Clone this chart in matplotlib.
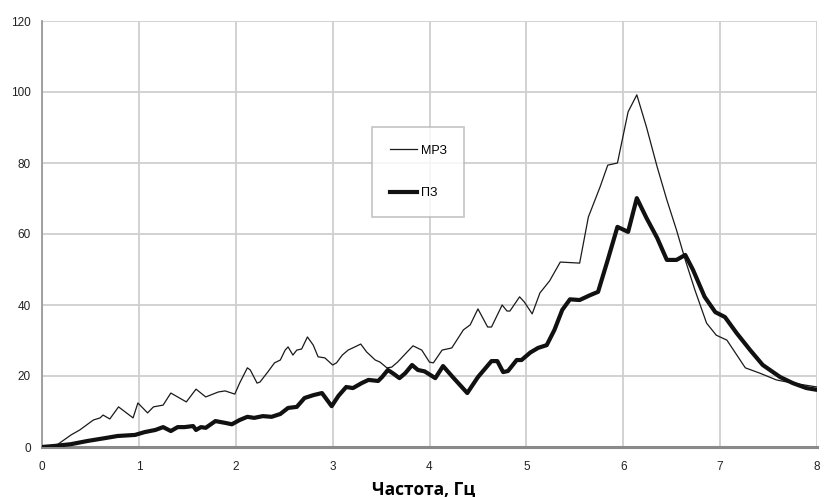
import matplotlib
matplotlib.use("Agg")
import matplotlib.pyplot as plt
from matplotlib import font_manager

# ---- data ----
mrz_freq = [0.00, 0.10, 0.15, 0.30, 0.39, 0.53, 0.60, 0.63, 0.70, 0.79, 0.94, 0.99, 1.09, 1.15,
            1.25, 1.33, 1.49, 1.59, 1.69, 1.82, 1.89, 1.99, 2.04, 2.12, 2.15, 2.22, 2.25, 2.33,
            2.40, 2.46, 2.51, 2.54, 2.59, 2.63, 2.68, 2.74, 2.80, 2.85, 2.92, 3.00, 3.04, 3.10,
            3.16, 3.23, 3.29, 3.35, 3.44, 3.49, 3.56, 3.61, 3.67, 3.77, 3.83, 3.92, 4.00, 4.04,
            4.13, 4.23, 4.35, 4.42, 4.50, 4.60, 4.64, 4.75, 4.80, 4.83, 4.93, 4.98, 5.06, 5.14,
            5.24, 5.35, 5.55, 5.64, 5.76, 5.84, 5.94, 6.05, 6.14, 6.24, 6.35, 6.45, 6.55, 6.64,
            6.74, 6.86, 6.96, 7.07, 7.26, 7.41, 7.58, 7.75, 8.00]
mrz_vals = [0.0, 0.0, 0.5, 3.4, 4.8, 7.6, 8.2, 9.0, 7.9, 11.3, 8.2, 12.4, 9.6, 11.3,
            11.8, 15.2, 12.7, 16.3, 14.1, 15.5, 15.8, 14.9, 18.0, 22.3, 21.7, 18.0, 18.3, 21.1,
            23.7, 24.5, 27.3, 28.2, 25.9, 27.3, 27.6, 31.0, 28.7, 25.4, 25.1, 23.1, 23.7, 25.9,
            27.3, 28.2, 29.0, 26.8, 24.5, 23.9, 22.3, 22.5, 23.9, 26.8, 28.5, 27.3, 23.9, 23.7,
            27.3, 27.9, 33.0, 34.4, 38.9, 33.8, 33.8, 40.0, 38.3, 38.3, 42.3, 40.8, 37.5, 43.4,
            46.8, 52.1, 51.8, 64.8, 73.2, 79.4, 80.0, 94.4, 99.2, 90.1, 78.9, 69.6, 61.1, 52.7,
            44.2, 34.9, 31.5, 30.1, 22.3, 20.8, 18.9, 18.0, 16.9]

pz_freq = [0.00, 0.13, 0.30, 0.47, 0.65, 0.78, 0.96, 1.06, 1.17, 1.25, 1.33, 1.40, 1.47, 1.56,
           1.59, 1.64, 1.69, 1.79, 1.89, 1.96, 2.04, 2.12, 2.19, 2.28, 2.37, 2.46, 2.54, 2.63,
           2.71, 2.80, 2.89, 2.99, 3.06, 3.14, 3.21, 3.30, 3.37, 3.47, 3.51, 3.57, 3.62, 3.69,
           3.75, 3.82, 3.88, 3.95, 4.06, 4.14, 4.24, 4.39, 4.50, 4.64, 4.70, 4.76, 4.81, 4.90,
           4.95, 5.04, 5.12, 5.21, 5.29, 5.37, 5.45, 5.55, 5.66, 5.74, 5.84, 5.94, 6.05, 6.14,
           6.24, 6.35, 6.45, 6.55, 6.64, 6.72, 6.84, 6.95, 7.05, 7.17, 7.31, 7.44, 7.62, 7.75,
           7.89, 8.00]
pz_vals = [0.0, 0.3, 0.8, 1.7, 2.5, 3.1, 3.4, 4.2, 4.8, 5.6, 4.5, 5.6, 5.6, 5.9,
           4.8, 5.6, 5.4, 7.3, 6.8, 6.4, 7.6, 8.5, 8.2, 8.7, 8.5, 9.3, 11.0, 11.3,
           13.8, 14.6, 15.2, 11.5, 14.4, 16.9, 16.6, 18.0, 18.9, 18.6, 19.7, 21.7, 20.8, 19.4,
           20.8, 23.1, 21.7, 21.3, 19.4, 22.8, 19.7, 15.2, 19.7, 24.2, 24.2, 21.1, 21.4, 24.5,
           24.5, 26.6, 27.9, 28.7, 33.0, 38.6, 41.6, 41.4, 42.8, 43.7, 52.7, 62.0, 60.6, 70.1,
           64.5, 58.9, 52.7, 52.7, 54.1, 49.9, 42.3, 38.0, 36.6, 32.1, 27.3, 23.1, 19.7, 18.0,
           16.6, 16.1]

x_ticks = [0, 1, 2, 3, 4, 5, 6, 7, 8]
y_ticks = [0, 20, 40, 60, 80, 100, 120]
series_labels = ["МРЗ", "ПЗ"]
x_label = "Частота, Гц"

# ---- fonts ----
avail = {f.name for f in font_manager.fontManager.ttflist}
narrow = "Liberation Sans Narrow" if "Liberation Sans Narrow" in avail else "Liberation Sans"

fig = plt.figure(figsize=(8.25, 4.97), dpi=100)
ax = fig.add_axes([42/825, 50/497, 775/825, 426/497])

ax.plot(mrz_freq, mrz_vals, color="#1a1a1a", lw=0.9, label=series_labels[0], zorder=3)
ax.plot(pz_freq, pz_vals, color="#111111", lw=3.0, label=series_labels[1], zorder=4,
        solid_joinstyle="round")

ax.set_xlim(0, 8)
ax.set_ylim(0, 120)
ax.set_xticks(x_ticks)
ax.set_yticks(y_ticks)
ax.grid(True, color="#cfcfcf", lw=1.3)
ax.set_axisbelow(True)
for s in ["top", "right"]:
    ax.spines[s].set_visible(False)
ax.spines["left"].set_color("#9a9a9a")
ax.spines["left"].set_linewidth(1.3)
ax.spines["bottom"].set_color("#8a8a8a")
ax.spines["bottom"].set_linewidth(2.2)
ax.tick_params(length=0, labelsize=8.5, labelcolor="#222222")
ax.tick_params(axis="x", pad=10)
ax.tick_params(axis="y", pad=8)
for lab in ax.get_xticklabels() + ax.get_yticklabels():
    lab.set_family(narrow)

fig.text(424/825, 2.5/497, x_label, fontsize=12.5, fontweight="bold",
         family=["Open Sans", "DejaVu Sans"], ha="center", va="baseline")

leg = ax.legend(loc="upper left", bbox_to_anchor=(372/825, 1 - 127/497),
                bbox_transform=fig.transFigure, borderaxespad=0, frameon=True, fancybox=False,
                borderpad=1.4, labelspacing=2.45, handlelength=2.2, handletextpad=0.3,
                prop={"family": narrow, "size": 9})
leg.get_frame().set_edgecolor("#b5b5b5")
leg.get_frame().set_linewidth(1.2)

fig.savefig("out.png", dpi=100)
